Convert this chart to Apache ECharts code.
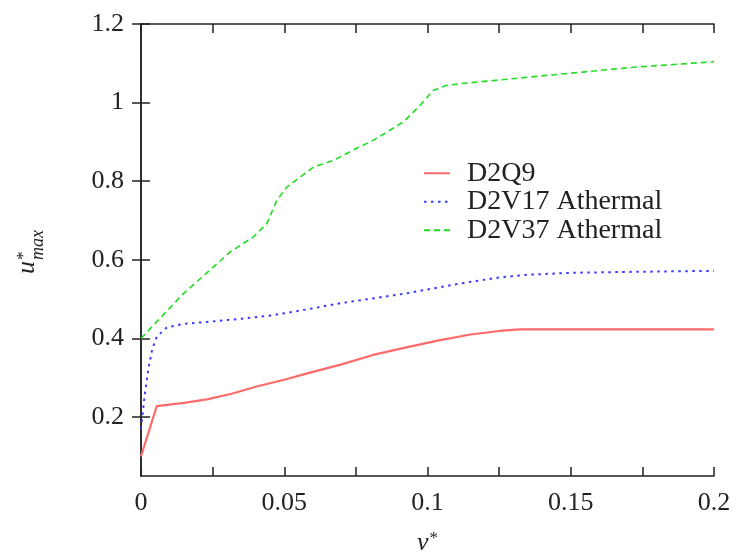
<!DOCTYPE html>
<html>
<head>
<meta charset="utf-8">
<script src="https://cdn.jsdelivr.net/npm/echarts@6/dist/echarts.min.js"></script>
<style>html,body{margin:0;padding:0;background:#fff}#c{width:737px;height:556px}</style>
</head>
<body>
<div id="c"></div>
<script>
// ---- data ----
const seriesNames = ['D2Q9', 'D2V17 Athermal', 'D2V37 Athermal'];

const d2q9Nu = [0, 0.0055, 0.015, 0.023, 0.032, 0.040, 0.050, 0.058, 0.070, 0.081, 0.093, 0.104, 0.115, 0.125, 0.132, 0.2];
const d2q9U  = [0.10, 0.228, 0.236, 0.245, 0.260, 0.277, 0.295, 0.311, 0.334, 0.358, 0.378, 0.395, 0.410, 0.419, 0.423, 0.423];

const d2v17Nu = [0, 0.0012, 0.0025, 0.004, 0.0055, 0.009, 0.015, 0.023, 0.035, 0.046, 0.058, 0.070, 0.082, 0.093, 0.104, 0.115, 0.125, 0.135, 0.150, 0.167, 0.2];
const d2v17U  = [0.17, 0.25, 0.32, 0.375, 0.404, 0.428, 0.437, 0.442, 0.450, 0.459, 0.474, 0.490, 0.503, 0.515, 0.530, 0.544, 0.555, 0.562, 0.567, 0.569, 0.572];

const d2v37Nu = [0, 0.0066, 0.0148, 0.0241, 0.0311, 0.0392, 0.0439, 0.0474, 0.0509, 0.0602, 0.0672, 0.0753, 0.0811, 0.0916, 0.0974, 0.102, 0.1067, 0.1113, 0.137, 0.172, 0.2];
const d2v37U  = [0.40, 0.451, 0.514, 0.574, 0.620, 0.658, 0.692, 0.751, 0.785, 0.836, 0.853, 0.884, 0.904, 0.951, 0.993, 1.031, 1.044, 1.048, 1.066, 1.090, 1.104];

const xTicks = [0, 0.025, 0.05, 0.075, 0.1, 0.125, 0.15, 0.175, 0.2];
const xLabels = [0, 0.05, 0.1, 0.15, 0.2];
const yTicks = [0.2, 0.4, 0.6, 0.8, 1.0, 1.2];

// ---- build ----
const zip = (a, b) => a.map((v, i) => [v, b[i]]);
const FONT = 'Liberation Serif';
const fmt = v => String(+(+v).toFixed(3));

const chart = echarts.init(document.getElementById('c'), null, {renderer: 'canvas'});

const axisCommon = {
  type: 'value',
  axisLine: {show: true, lineStyle: {color: '#222', width: 1.5}},
  splitLine: {show: false},
  axisTick: {show: true, inside: true, length: 9, lineStyle: {color: '#222', width: 1.5}}
};

const option = {
  animation: false,
  backgroundColor: '#fff',
  grid: {left: 141, right: 23, top: 24, bottom: 80, containLabel: false, outerBoundsMode: 'none'},
  legend: {
    orient: 'vertical',
    left: 423,
    top: 159,
    padding: 0,
    itemWidth: 26,
    itemHeight: 14,
    itemGap: 0,
    itemStyle: {opacity: 0},
    textStyle: {fontFamily: FONT, fontSize: 28, color: '#222', lineHeight: 28.5, padding: [0, 0, 0, 12]},
    data: seriesNames
  },
  xAxis: [
    Object.assign({}, axisCommon, {
      min: 0, max: 0.2, position: 'bottom',
      axisTick: Object.assign({}, axisCommon.axisTick, {customValues: xTicks}),
      axisLabel: {customValues: xLabels, formatter: fmt, fontFamily: FONT, fontSize: 26, color: '#222', margin: 14},
      name: '{n|ν}{s|*}',
      nameLocation: 'middle',
      nameGap: 54,
      nameTextStyle: {
        rich: {
          n: {fontFamily: FONT, fontStyle: 'italic', fontSize: 26, color: '#222', verticalAlign: 'bottom'},
          s: {fontFamily: FONT, fontSize: 17, color: '#222', verticalAlign: 'top', padding: [0, 0, 0, 1]}
        }
      }
    }),
    Object.assign({}, axisCommon, {
      min: 0, max: 0.2, position: 'top',
      axisTick: Object.assign({}, axisCommon.axisTick, {customValues: xTicks}),
      axisLabel: {show: false}
    })
  ],
  yAxis: [
    Object.assign({}, axisCommon, {
      min: 0.05, max: 1.2, position: 'left',
      axisTick: Object.assign({}, axisCommon.axisTick, {customValues: yTicks}),
      axisLabel: {customValues: yTicks, formatter: fmt, fontFamily: FONT, fontSize: 26, color: '#222', margin: 17}
    }),
    Object.assign({}, axisCommon, {
      min: 0.05, max: 1.2, position: 'right',
      axisTick: Object.assign({}, axisCommon.axisTick, {customValues: yTicks}),
      axisLabel: {show: false}
    })
  ],
  series: [
    {
      name: seriesNames[0], type: 'line', xAxisIndex: 0, yAxisIndex: 0,
      data: zip(d2q9Nu, d2q9U), symbol: 'none', smooth: false,
      color: '#ff6a6a',
      lineStyle: {color: '#ff6a6a', width: 2.2, type: 'solid'}
    },
    {
      name: seriesNames[1], type: 'line', xAxisIndex: 0, yAxisIndex: 0,
      data: zip(d2v17Nu, d2v17U), symbol: 'none', smooth: false,
      color: '#3a3aff',
      lineStyle: {color: '#3a3aff', width: 2, type: [2.5, 4.5]}
    },
    {
      name: seriesNames[2], type: 'line', xAxisIndex: 0, yAxisIndex: 0,
      data: zip(d2v37Nu, d2v37U), symbol: 'none', smooth: false,
      color: '#1fdc1f',
      lineStyle: {color: '#1fdc1f', width: 1.6, type: [6, 4]}
    }
  ],
  graphic: [
    {
      type: 'group',
      x: 40, y: 274,
      rotation: Math.PI / 2,
      children: [
        {type: 'text', x: 0, y: 0, style: {text: 'u', font: 'italic 26px "Liberation Serif"', fill: '#222', textAlign: 'left', textVerticalAlign: 'bottom'}},
        {type: 'text', x: 14, y: -8, style: {text: '*', font: '17px "Liberation Serif"', fill: '#222', textAlign: 'left', textVerticalAlign: 'bottom'}},
        {type: 'text', x: 14, y: 7, style: {text: 'max', font: 'italic 18px "Liberation Serif"', fill: '#222', textAlign: 'left', textVerticalAlign: 'bottom'}}
      ]
    }
  ]
};

chart.setOption(option);
</script>
</body>
</html>
